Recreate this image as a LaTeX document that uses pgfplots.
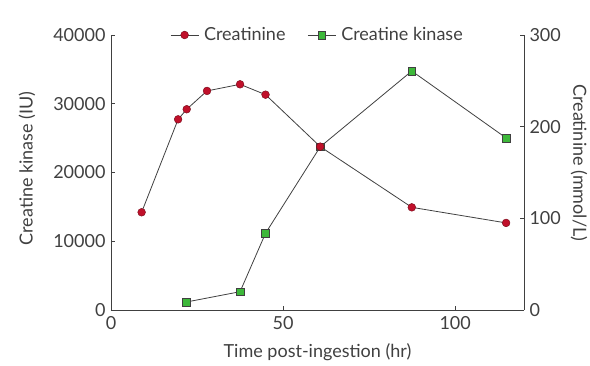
\documentclass[border=0pt]{standalone}
\usepackage{pgfplots}
\pgfplotsset{compat=1.18}
\usepackage{fontspec}
\setmainfont{Lato}
\definecolor{txt}{HTML}{404040}
\definecolor{ckred}{HTML}{C0102A}
\definecolor{ckgreen}{HTML}{3DB83A}
\newcommand{\chfont}{\fontsize{18}{20}\selectfont}
\pgfplotsset{
  common/.style={
    scale only axis, width=413pt, height=275pt,
    xmin=0, xmax=120,
    tick align=inside, major tick length=4pt,
    axis line style={draw=txt, line width=0.8pt, -},
    tick style={draw=txt, line width=0.8pt},
    /pgf/number format/assume math mode=true,
    /pgf/number format/1000 sep={},
    tick label style={font=\chfont, text=txt},
  }
}
\begin{document}
\begin{tikzpicture}[x=1pt,y=1pt]
\path[use as bounding box] (-111,-56) rectangle (479,310);
\begin{axis}[common,
  ymin=0, ymax=40000, ytick={0,10000,20000,30000,40000},
  scaled y ticks=false,
  axis x line*=bottom, axis y line*=left,
  xtick={0,50,100},
  xticklabel style={yshift=-3pt},
  yticklabel style={xshift=-2pt},
  xlabel={Time post-ingestion (hr)},
  ylabel={Creatine kinase (IU)},
  every axis x label/.style={at={(rel axis cs:0.5,0)}, yshift=-42pt, anchor=center, font=\chfont, text=txt},
  every axis y label/.style={at={(rel axis cs:0,0.515)}, xshift=-84pt, rotate=90, anchor=center, font=\chfont, text=txt},
]
\addplot[draw=txt, line width=0.8pt, mark=square*, mark size=3.8pt,
  mark options={fill=ckgreen, draw=txt, line width=0.5pt}] coordinates {
  (21.9,1160) (37.5,2660) (44.9,11160) (60.8,23740) (87.4,34760) (114.8,25020)
};
\end{axis}
\begin{axis}[common,
  ymin=0, ymax=300, ytick={0,100,200,300},
  axis x line=none, axis y line*=right,
  yticklabel style={xshift=2pt},
  ylabel={Creatinine (mmol/L)},
  every axis y label/.style={at={(rel axis cs:1,0.535)}, xshift=55pt, rotate=-90, anchor=center, font=\chfont, text=txt},
  legend style={at={(rel axis cs:0.5,1.0)}, anchor=center, draw=none, fill=none,
    legend columns=2, font=\chfont, text=txt,
    /tikz/every odd column/.append style={column sep=3pt},
    /tikz/every even column/.append style={column sep=20pt}},
  legend cell align=left,
  legend image code/.code={\draw[mark=none] (0pt,0pt) -- (28pt,0pt); \draw plot coordinates {(14pt,0pt)};},
]
\addplot[draw=txt, line width=0.8pt, mark=*, mark size=3.9pt,
  mark options={fill=ckred, draw=ckred!60!black, line width=0.4pt}] coordinates {
  (8.9,106.6) (19.5,208) (22.0,219) (27.9,239) (37.5,246.2) (44.9,234.9)
  (60.8,178.2) (87.4,112) (114.8,95)
};
\addlegendentry{Creatinine}
\addlegendimage{draw=txt, line width=0.8pt, mark=square*, mark size=3.8pt,
  mark options={fill=ckgreen, draw=txt, line width=0.5pt}}
\addlegendentry{Creatine kinase}
\end{axis}
\end{tikzpicture}
\end{document}
